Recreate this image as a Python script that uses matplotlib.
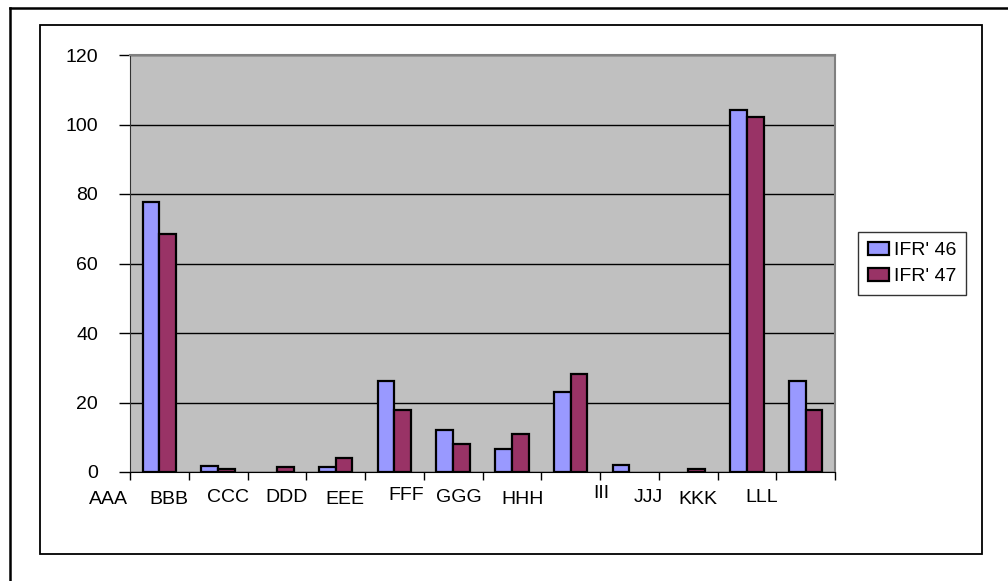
import matplotlib.pyplot as plt
from matplotlib import patches
from matplotlib.lines import Line2D
from matplotlib.transforms import blended_transform_factory
import numpy as np

plt.rcParams['font.family'] = ['Liberation Sans', 'DejaVu Sans']

# data
categories = ['AAA', 'BBB', 'CCC', 'DDD', 'EEE', 'FFF', 'GGG', 'HHH', 'III', 'JJJ', 'KKK', 'LLL']
series_names = ["IFR' 46", "IFR' 47"]
ifr46 = [77.6, 1.8, 0.0, 1.4, 26.2, 12.0, 6.7, 23.0, 1.9, 0.0, 104.2, 26.2]
ifr47 = [68.5, 0.8, 1.4, 4.0, 17.8, 8.0, 10.9, 28.2, 0.0, 0.8, 102.1, 17.8]
y_ticks = [0, 20, 40, 60, 80, 100, 120]

# the category labels sit oddly offset from the slots in the original
label_x = [-0.86, 0.16, 1.17, 2.16, 3.16, 4.20, 5.10, 6.19, 7.52, 8.32, 9.17, 10.26]
label_y = [500, 500, 497, 497, 500, 495, 498, 500, 494, 498, 500, 497]

W, H = 1008, 581
fig = plt.figure(figsize=(W / 100, H / 100), dpi=100)
fig.patch.set_facecolor('white')

# outer line (top and left) and the chart area frame
fig.add_artist(Line2D([10 / W, 1], [1 - 8 / H, 1 - 8 / H], color='black', lw=1.8))
fig.add_artist(Line2D([10 / W, 10 / W], [0, 1 - 8 / H], color='black', lw=1.8))
fig.add_artist(patches.Rectangle((40 / W, 1 - 554 / H), 942 / W, 529 / H,
                                 fill=False, edgecolor='black', lw=1.3))

ax = fig.add_axes([130 / W, 1 - 472 / H, 705 / W, 417 / H])
ax.set_facecolor('#C0C0C0')

n = len(categories)
x = np.arange(n)
bw = 1 / 3.5
b1 = ax.bar(x - bw / 2, ifr46, bw, color='#9999FF', edgecolor='black', lw=1.6,
            label=series_names[0], zorder=3)
b2 = ax.bar(x + bw / 2, ifr47, bw, color='#993366', edgecolor='black', lw=1.6,
            label=series_names[1], zorder=3)
# empty values get no outline, as in the original
for bars in (b1, b2):
    for p in bars:
        if p.get_height() == 0:
            p.set_visible(False)

ax.set_xlim(-0.5, n - 0.5)
ax.set_ylim(0, 120)
ax.set_yticks(y_ticks)
ax.set_yticklabels([str(v) for v in y_ticks], fontsize=14)
ax.yaxis.grid(True, color='black', lw=1)
ax.set_axisbelow(True)
ax.tick_params(axis='y', length=8, width=1, pad=15, colors='black')

ax.set_xticks(np.arange(n + 1) - 0.5)
ax.set_xticklabels([])
ax.tick_params(axis='x', length=6, width=1, direction='out')

for side in ['top', 'right']:
    ax.spines[side].set_color('#808080')
    ax.spines[side].set_linewidth(1.5)
ax.spines['left'].set_color('#333333')
ax.spines['bottom'].set_color('black')

trans = blended_transform_factory(ax.transData, fig.transFigure)
for lab, lx, ly in zip(categories, label_x, label_y):
    ax.text(lx, 1 - ly / H, lab, transform=trans, ha='center', va='center',
            fontsize=14)

leg = fig.legend(loc='center left', bbox_to_anchor=(858 / W, 1 - 263.5 / H),
                 fontsize=14, frameon=True, fancybox=False, handlelength=1.1,
                 handleheight=0.7, handletextpad=0.25, borderpad=0.5,
                 labelspacing=0.45, borderaxespad=0)
leg.get_frame().set_edgecolor('black')
leg.get_frame().set_linewidth(1)

fig.savefig('out.png', dpi=100)
